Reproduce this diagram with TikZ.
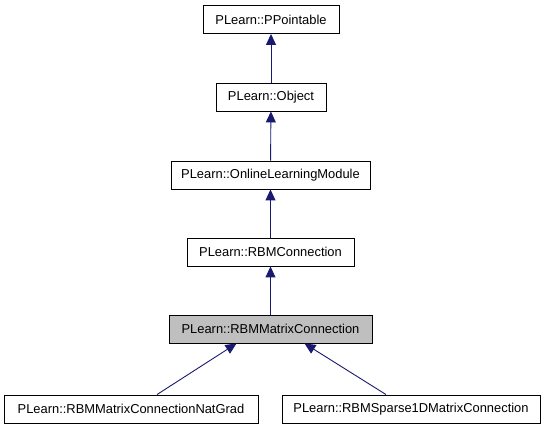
\documentclass[tikz,border=0pt]{standalone}
\usepackage{fontspec}
\setmainfont{Liberation Sans}
\usetikzlibrary{arrows.meta}
\definecolor{edgeblue}{HTML}{191970}
\definecolor{curgray}{HTML}{BFBFBF}
\tikzset{
  cls/.style={draw=black, fill=white, line width=0.9pt, minimum height=28pt, inner sep=0pt,
    font=\fontsize{12.9}{15}\selectfont},
  inh/.style={draw=edgeblue, line width=0.9pt, -{Triangle[length=11pt,width=10pt]}}
}

\begin{document}
\begin{tikzpicture}[x=1pt,y=-1pt]
        \useasboundingbox (0,0) rectangle (547,427);
        \node[cls, minimum width=136pt] (ppointable) at (271,19.5) {PLearn::PPointable};
        \node[cls, minimum width=110pt] (object) at (271,97) {PLearn::Object};
        \node[cls, minimum width=199pt] (online) at (270.5,175) {PLearn::OnlineLearningModule};
        \node[cls, minimum width=167pt] (rbmconn) at (270.5,252) {PLearn::RBMConnection};
        \node[cls, minimum width=203pt, fill=curgray] (matrix) at (270.5,329) {PLearn::RBMMatrixConnection};
        \node[cls, minimum width=254pt] (natgrad) at (131,409) {PLearn::RBMMatrixConnectionNatGrad};
        \node[cls, minimum width=258pt] (sparse) at (411,409) {PLearn::RBMSparse1DMatrixConnection};
        \draw[inh] (object) -- (ppointable);
        \draw[inh] (online) -- (object);
        \draw[inh] (rbmconn) -- (online);
        \draw[inh] (matrix) -- (rbmconn);
        \draw[inh] ([xshift=26pt]natgrad.north) -- ([xshift=-34pt]matrix.south);
        \draw[inh] ([xshift=-25pt]sparse.north) -- ([xshift=34pt]matrix.south);
      \end{tikzpicture}
\end{document}
